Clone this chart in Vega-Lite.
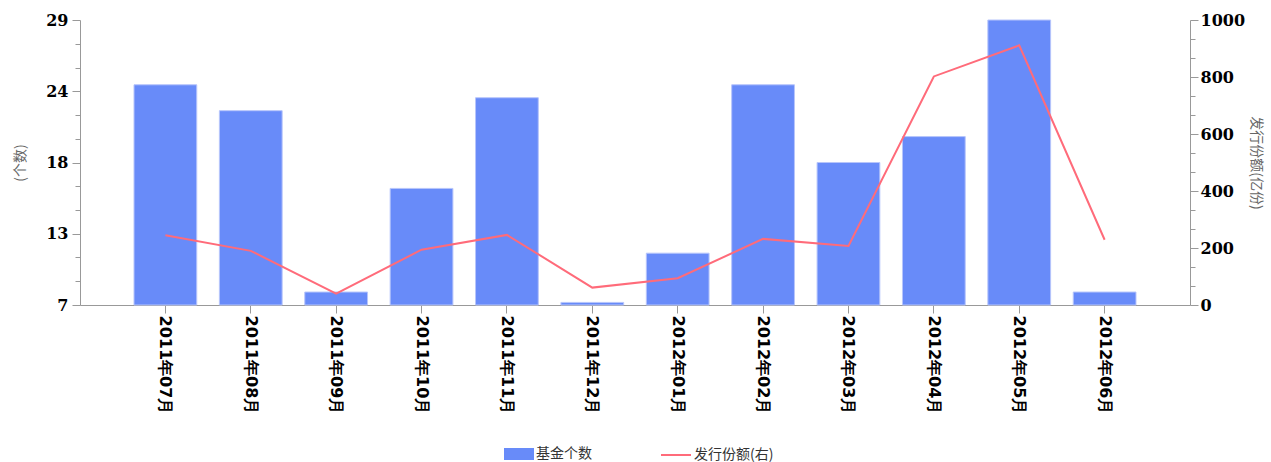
{
  "$schema": "https://vega.github.io/schema/vega-lite/v6.json",
  "width": 1110,
  "height": 285,
  "autosize": {"type": "none"},
  "padding": {"left": 80, "top": 20, "right": 81, "bottom": 157},
  "background": "white",
  "config": {"view": {"stroke": null}, "axis": {"grid": false}},
  "data": {
    "values": [
      {"month": "2011年07月", "count": 24, "amount": 245},
      {"month": "2011年08月", "count": 22, "amount": 190},
      {"month": "2011年09月", "count": 8, "amount": 40},
      {"month": "2011年10月", "count": 16, "amount": 194},
      {"month": "2011年11月", "count": 23, "amount": 246},
      {"month": "2011年12月", "count": 7.2, "amount": 61},
      {"month": "2012年01月", "count": 11, "amount": 94},
      {"month": "2012年02月", "count": 24, "amount": 232},
      {"month": "2012年03月", "count": 18, "amount": 207},
      {"month": "2012年04月", "count": 20, "amount": 802},
      {"month": "2012年05月", "count": 29, "amount": 911},
      {"month": "2012年06月", "count": 8, "amount": 229}
    ]
  },
  "encoding": {
    "x": {
      "field": "month",
      "type": "nominal",
      "sort": null,
      "scale": {"paddingInner": 0.265, "paddingOuter": 0.6325},
      "axis": {
        "title": null,
        "labelAngle": 90,
        "labelAlign": "left",
        "labelBaseline": "middle",
        "labelFont": "DejaVu Sans",
        "labelFontWeight": "bold",
        "labelFontSize": 16,
        "labelColor": "#000000",
        "labelPadding": 2,
        "tickSize": 8,
        "tickColor": "#999999",
        "domainColor": "#999999"
      }
    }
  },
  "layer": [
    {
      "mark": {"type": "bar", "stroke": "#b7c5fb", "strokeWidth": 1},
      "encoding": {
        "y": {
          "field": "count",
          "type": "quantitative",
          "scale": {"domain": [7, 29], "nice": false, "zero": false},
          "axis": {
            "orient": "left",
            "title": "(个数)",
            "values": [7, 8.833333, 10.666667, 12.5, 14.333333, 16.166667, 18, 19.833333, 21.666667, 23.5, 25.333333, 27.166667, 29],
            "labelExpr": "indexof([7, 12.5, 18, 23.5, 29], datum.value) >= 0 ? format(datum.value, '.0f') : ''",
            "tickSize": {"condition": {"test": "indexof([7, 12.5, 18, 23.5, 29], datum.value) >= 0", "value": 8}, "value": 5},
            "labelOverlap": false,
            "labelFont": "DejaVu Serif",
            "labelFontWeight": "bold",
            "labelFontSize": 16,
            "labelColor": "#000000",
            "labelPadding": 4,
            "tickColor": "#999999",
            "domainColor": "#999999",
            "titleFont": "Noto Sans CJK SC",
            "titleFontSize": 14,
            "titleFontWeight": "normal",
            "titleColor": "#666666",
            "titlePadding": 18
          }
        },
        "y2": {"datum": 7},
        "fill": {
          "datum": "基金个数",
          "scale": {"domain": ["基金个数"], "range": ["#688bf9"]},
          "legend": {
            "orient": "none",
            "legendX": 424,
            "legendY": 419,
            "title": null,
            "labelFont": "Noto Sans CJK SC",
            "labelFontSize": 14,
            "labelColor": "#333333",
            "labelOffset": 2,
            "symbolSize": 900,
            "symbolType": "M-1,-0.4H1V0.4H-1Z",
            "symbolStrokeWidth": 0,
            "symbolOpacity": 1
          }
        }
      }
    },
    {
      "mark": {"type": "line", "strokeWidth": 2},
      "encoding": {
        "y": {
          "field": "amount",
          "type": "quantitative",
          "scale": {"domain": [0, 1000], "nice": false},
          "axis": {
            "orient": "right",
            "title": "发行份额(亿份)",
            "values": [0, 66.666667, 133.333333, 200, 266.666667, 333.333333, 400, 466.666667, 533.333333, 600, 666.666667, 733.333333, 800, 866.666667, 933.333333, 1000],
            "labelExpr": "datum.value % 200 === 0 ? format(datum.value, 'd') : ''",
            "tickSize": {"condition": {"test": "datum.value % 200 === 0", "value": 8}, "value": 5},
            "labelOverlap": false,
            "labelFont": "DejaVu Serif",
            "labelFontWeight": "bold",
            "labelFontSize": 16,
            "labelColor": "#000000",
            "labelPadding": 2,
            "tickColor": "#999999",
            "domainColor": "#999999",
            "titleFont": "Noto Sans CJK SC",
            "titleFontSize": 14,
            "titleFontWeight": "normal",
            "titleColor": "#666666",
            "titlePadding": 4
          }
        },
        "stroke": {
          "datum": "发行份额(右)",
          "scale": {"domain": ["发行份额(右)"], "range": ["#ff6b7a"]},
          "legend": {
            "orient": "none",
            "legendX": 580,
            "legendY": 419,
            "title": null,
            "labelFont": "Noto Sans CJK SC",
            "labelFontSize": 14,
            "labelColor": "#333333",
            "labelOffset": 2,
            "symbolSize": 900,
            "symbolType": "stroke",
            "symbolStrokeWidth": 2
          }
        }
      }
    }
  ],
  "resolve": {"scale": {"y": "independent"}}
}
